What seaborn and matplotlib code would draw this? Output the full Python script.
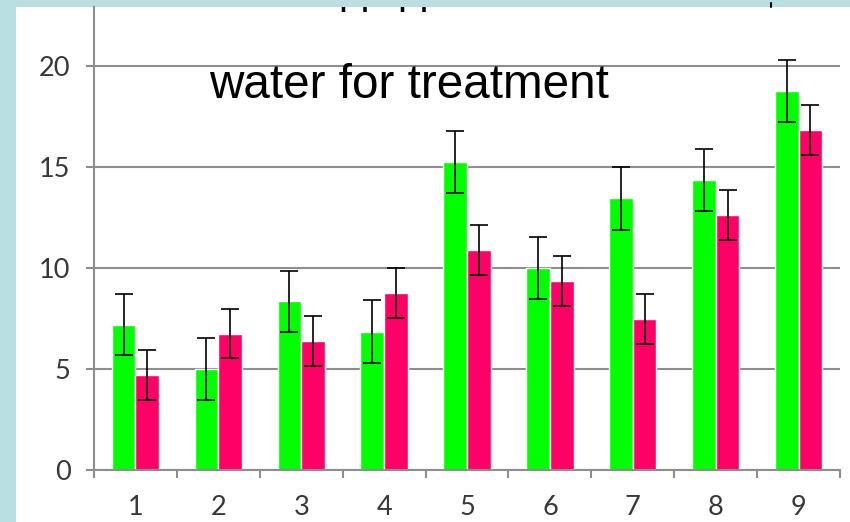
import matplotlib
matplotlib.use("Agg")
import matplotlib.pyplot as plt
import seaborn as sns
import pandas as pd
import numpy as np
from matplotlib.patches import Rectangle
from matplotlib.lines import Line2D
from matplotlib.transforms import Bbox, TransformedBbox

# ---- data ----
categories = ["1", "2", "3", "4", "5", "6", "7", "8", "9"]
series_names = ["A", "B"]
green_values = [7.2, 5.0, 8.35, 6.85, 15.25, 10.0, 13.45, 14.35, 18.75]
green_errors = [1.52, 1.55, 1.52, 1.55, 1.53, 1.54, 1.56, 1.53, 1.53]
red_values = [4.7, 6.75, 6.4, 8.75, 10.88, 9.35, 7.48, 12.62, 16.82]
red_errors = [1.23, 1.23, 1.24, 1.24, 1.23, 1.23, 1.24, 1.23, 1.24]
y_ticks = [0, 5, 10, 15, 20]
title_text = "water for treatment"

GREEN = "#00FF00"
RED = "#FF0066"
BAND = "#BADFE3"
GRID = "#8E8E8E"
LABEL = "#383838"

df = pd.DataFrame({
    "cat": categories * 2,
    "series": [series_names[0]] * len(categories) + [series_names[1]] * len(categories),
    "value": green_values + red_values,
})

sns.set_theme(style="white")
plt.rcParams["font.family"] = ["Lato", "DejaVu Sans"]

W, H = 850, 522
fig = plt.figure(figsize=(W / 100, H / 100), dpi=100, facecolor=BAND)

# white panel
fig.add_artist(Rectangle((16 / W, 0), 1 - 16 / W, (H - 7) / H, transform=fig.transFigure,
                         facecolor="white", edgecolor="none", zorder=-3))
# cut-off text remnants just below the top band (clipped to the panel)
panel_clip = TransformedBbox(Bbox([[16 / W, 0], [1, (H - 7) / H]]), fig.transFigure)
for xpx in (338.5, 397.5):
    t = fig.text(xpx / W, (H - 3.5) / H, "pp", fontsize=29, family="Liberation Sans",
                 color="black", ha="left", va="baseline", zorder=-2.5)
    t.set_clip_on(True)
    t.set_clip_box(panel_clip)
fig.add_artist(Line2D([771 / W, 771 / W], [(H - 3) / H, (H - 7) / H], transform=fig.transFigure,
                      color="black", lw=1.5, zorder=-1))

ax = fig.add_axes([94 / W, (H - 470) / H, (840 - 94) / W, (470 - 7) / H])
ax.set_facecolor("none")

sns.barplot(data=df, x="cat", y="value", hue="series", order=categories,
            hue_order=series_names, palette=[GREEN, RED], width=0.572,
            errorbar=None, saturation=1, ax=ax, legend=False, zorder=2)

for cont, errs in zip(ax.containers, [green_errors, red_errors]):
    xs = [b.get_x() + b.get_width() / 2 for b in cont]
    ys = [b.get_height() for b in cont]
    ax.errorbar(xs, ys, yerr=errs, fmt="none", ecolor="black", elinewidth=1.2,
                capsize=6.5, capthick=1.2, zorder=3)

ax.set_xlim(-0.5, len(categories) - 0.5)
ax.set_ylim(0, 463 / 20.2)
ax.set_yticks(y_ticks)
ax.set_yticklabels([str(t) for t in y_ticks])
ax.yaxis.grid(True, color=GRID, lw=1.5, zorder=0)
ax.set_axisbelow(True)

# x ticks at category boundaries, labels at centers
ax.set_xticks(np.arange(-0.5, len(categories), 1.0))
ax.set_xticklabels([])
ax.set_xticks(np.arange(len(categories)), minor=True)
ax.set_xticklabels(categories, minor=True)
ax.tick_params(axis="x", which="major", direction="out", length=6, width=1.5, color=GRID, bottom=True)
ax.tick_params(axis="x", which="minor", length=0, pad=18, labelsize=19.5, labelcolor=LABEL)
ax.tick_params(axis="y", direction="out", length=6, width=1.5, color=GRID, left=True,
               pad=11, labelsize=19.5, labelcolor=LABEL)

ax.set_xlabel("")
ax.set_ylabel("")
for s in ["top", "right"]:
    ax.spines[s].set_visible(False)
for s in ["left", "bottom"]:
    ax.spines[s].set_color(GRID)
    ax.spines[s].set_linewidth(1.5)

ax.text(209 / W, (H - 98) / H, title_text, transform=fig.transFigure, fontsize=34.3,
        family="Liberation Sans", color="black", ha="left", va="baseline")

fig.savefig("out.png", dpi=100, facecolor=BAND)
